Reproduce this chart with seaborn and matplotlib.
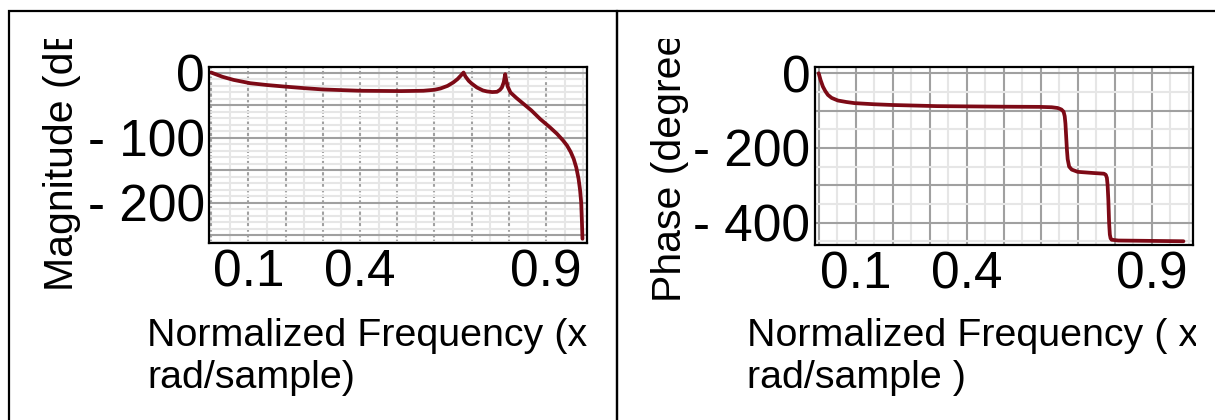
import numpy as np
import matplotlib
matplotlib.use("Agg")
import matplotlib.pyplot as plt
from matplotlib.ticker import MultipleLocator
from matplotlib.transforms import Bbox
from matplotlib.patches import Rectangle
import seaborn as sns

# magnitude response (normalized freq, dB)
mag_freq = [0.0, 0.03, 0.06, 0.105, 0.15, 0.194, 0.25, 0.30, 0.40, 0.51, 0.57,
            0.60, 0.616, 0.635, 0.651, 0.662, 0.671, 0.678, 0.683, 0.692, 0.70,
            0.714, 0.73, 0.741, 0.755, 0.768, 0.776, 0.781, 0.786, 0.790, 0.793,
            0.797, 0.804, 0.82, 0.84, 0.86, 0.884, 0.91, 0.929, 0.945, 0.956,
            0.966, 0.974, 0.981, 0.987, 0.991, 0.994, 0.996, 0.9975]
mag_db = [0.0, -6.5, -11.3, -16.4, -19.2, -21.4, -24.0, -26.0, -28.0, -28.5, -28.0,
          -26.5, -24.5, -20.5, -15.0, -10.0, -4.5, 0.0, -6.0, -12.8, -17.0,
          -23.0, -27.5, -29.0, -30.0, -29.6, -26.5, -23.0, -15.0, -2.5, -13.0,
          -22.0, -30.6, -39.0, -48.5, -58.0, -71.4, -84.0, -94.0, -104.0, -112.0,
          -122.0, -132.6, -146.0, -163.0, -180.0, -199.0, -228.0, -255.0]

# phase response (normalized freq, degrees)
phase_freq = [0.0, 0.005, 0.0115, 0.018, 0.025, 0.035, 0.052, 0.075, 0.097, 0.15,
              0.2, 0.32, 0.5, 0.597, 0.63, 0.646, 0.656, 0.662, 0.665, 0.667,
              0.669, 0.671, 0.673, 0.677, 0.684, 0.70, 0.74, 0.771, 0.776, 0.779,
              0.781, 0.783, 0.785, 0.787, 0.789, 0.792, 0.81, 0.90, 0.986]
phase_deg = [0.0, -18.0, -36.0, -48.0, -58.0, -66.0, -73.0, -77.0, -80.0, -83.0,
             -85.0, -88.0, -89.5, -90.0, -91.0, -93.0, -97.0, -103.0, -115.0, -135.0,
             -170.0, -205.0, -230.0, -250.0, -258.0, -264.0, -267.0, -269.0, -272.0, -280.0,
             -300.0, -340.0, -400.0, -432.0, -442.0, -446.0, -448.0, -449.0, -450.0]

freq_ticks = [0.0, 0.1, 0.2, 0.3, 0.4, 0.5, 0.6, 0.7, 0.8, 0.9]
freq_tick_labels = ['', '0.1', '', '', '0.4', '', '', '', '', '0.9']
mag_ticks = [0, -50, -100, -150, -200, -250]
mag_tick_labels = ['0', '', '- 100', '', '- 200', '']
phase_ticks = [0, -100, -200, -300, -400]
phase_tick_labels = ['0', '', '- 200', '', '- 400']

LINE = '#7d0a16'
GRID_MAJOR = '#a0a0a0'
GRID_MINOR = '#e6e6e6'
TICK_FS = 37
LABEL_FS = 28.4
YLABEL_FS = 29.5

sns.set_theme(style="white")
plt.rcParams['font.family'] = ['Liberation Sans', 'DejaVu Sans']

fig = plt.figure(figsize=(12.15, 4.2), dpi=100)
W, H = 1215.0, 420.0

ax1 = fig.add_axes([209.3 / W, 1 - 243.3 / H, 378.0 / W, 176.0 / H])
ax2 = fig.add_axes([815.0 / W, 1 - 245.0 / H, 377.7 / W, 177.7 / H])


def style_axes(ax, yticks, ylabels, yminor, xlim, ylim, dashed_x):
    ax.set_facecolor('white')
    ax.set_xlim(*xlim)
    ax.set_ylim(*ylim)
    ax.set_xticks(freq_ticks, freq_tick_labels)
    ax.xaxis.set_minor_locator(MultipleLocator(0.05))
    ax.set_yticks(yticks, ylabels)
    ax.yaxis.set_minor_locator(MultipleLocator(yminor))
    ax.grid(which='minor', color=GRID_MINOR, linewidth=1.5, linestyle='-')
    ax.grid(which='major', axis='y', color=GRID_MAJOR, linewidth=1.5, linestyle='-')
    if dashed_x:
        ax.grid(which='major', axis='x', color=GRID_MAJOR, linewidth=1.5,
                linestyle=(0, (1.6, 1.1)))
    else:
        ax.grid(which='major', axis='x', color=GRID_MAJOR, linewidth=1.5, linestyle='-')
    ax.set_axisbelow(True)
    for s in ax.spines.values():
        s.set_color('black')
        s.set_linewidth(1.6)
    ax.tick_params(which='both', direction='out', length=3, width=1.1,
                   color='black', labelcolor='black')
    ax.tick_params(axis='x', which='both', labelsize=TICK_FS, pad=1.0)
    ax.tick_params(axis='y', which='both', labelsize=TICK_FS, pad=0.3)


sns.lineplot(x=mag_freq, y=mag_db, ax=ax1, color=LINE, linewidth=2.7)
sns.lineplot(x=phase_freq, y=phase_deg, ax=ax2, color=LINE, linewidth=2.7)

style_axes(ax1, mag_ticks, mag_tick_labels, 10, (-0.005, 1.0105), (-262, 8), True)
style_axes(ax2, phase_ticks, phase_tick_labels, 50, (-0.010, 1.011), (-460, 16), False)

# axis labels, clipped like the original panels
clip_left = Bbox.from_extents(10, 0, 591, H - 39)
clip_right = Bbox.from_extents(618, 0, 1196, H - 39)

yl1 = ax1.set_ylabel('Magnitude (dB)', fontsize=YLABEL_FS, color='black')
ax1.yaxis.set_label_coords(-0.339, 0.528)
xl1 = ax1.set_xlabel('Normalized Frequency (x  \u03c0\nrad/sample)', fontsize=LABEL_FS,
                     color='black', ha='left', multialignment='left')
ax1.xaxis.set_label_coords(-0.165, -0.424)

yl2 = ax2.set_ylabel('Phase (degrees)', fontsize=YLABEL_FS, color='black')
ax2.yaxis.set_label_coords(-0.334, 0.536)
xl2 = ax2.set_xlabel('Normalized Frequency ( x  \u03c0\nrad/sample )', fontsize=LABEL_FS,
                     color='black', ha='left', multialignment='left')
ax2.xaxis.set_label_coords(-0.180, -0.411)

for t, box in [(yl1, clip_left), (xl1, clip_left), (yl2, clip_right), (xl2, clip_right)]:
    t.set_clip_on(True)
    t.set_clip_box(box)

# panel frames
fig.add_artist(Rectangle((9 / W, -0.1), (616.7 - 9) / W, 1.1 - 11.5 / H,
                         transform=fig.transFigure, fill=False, lw=1.6, ec='black'))
fig.add_artist(Rectangle((616.7 / W, -0.1), 1.0, 1.1 - 11.5 / H,
                         transform=fig.transFigure, fill=False, lw=1.6, ec='black'))

fig.savefig('out.png', dpi=100, facecolor='white')
